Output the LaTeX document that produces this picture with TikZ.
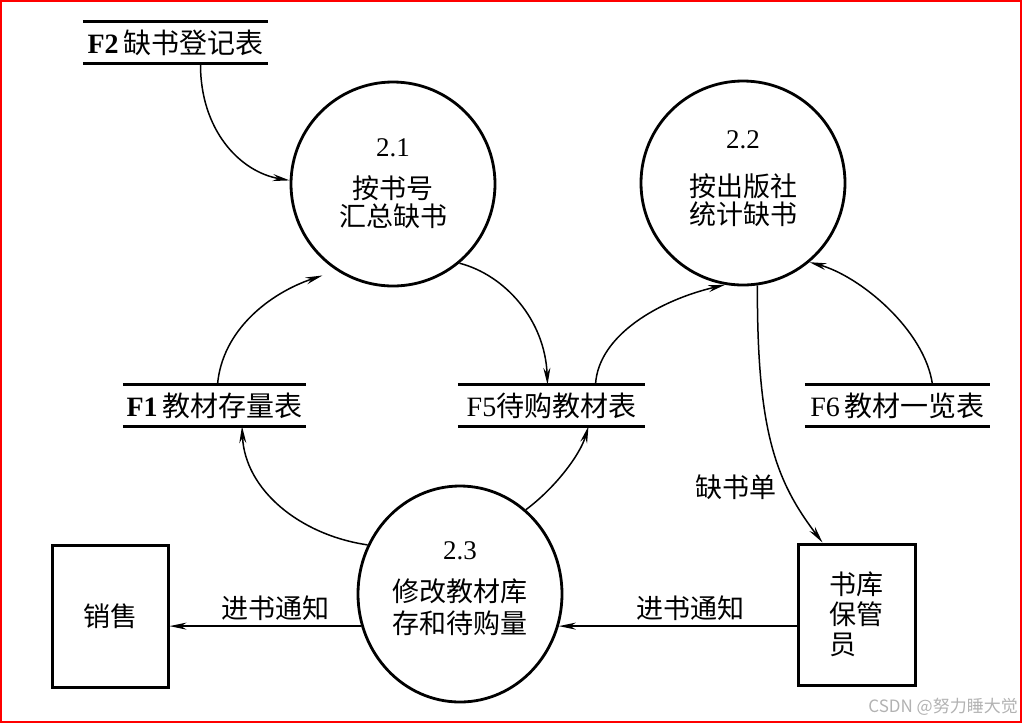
\documentclass[tikz,border=0pt]{standalone}
\usepackage{fontspec}
\setmainfont{Liberation Serif}
\newfontfamily\cjk{Noto Sans CJK SC}
\usetikzlibrary{arrows.meta,calc,shapes.geometric}
\begin{document}
\begin{tikzpicture}[x=1pt,y=-1pt,
  proc/.style={circle,draw,line width=2.8pt,minimum size=204pt,inner sep=0pt},
  ptext/.style={align=center,inner sep=0pt,font=\fontsize{27}{28}\selectfont},
  ent/.style={rectangle,draw,line width=3pt,inner sep=0pt,align=left,font=\fontsize{27}{30}\selectfont\cjk},
  store/.style={inner sep=0pt,minimum height=41pt,font=\fontsize{28}{28}\selectfont},
  sline/.style={line width=2.8pt},
  flow/.style={line width=1.5pt,-{Stealth[length=17pt,width=7pt]}},
  lbl/.style={font=\fontsize{27}{28}\selectfont\cjk,inner sep=0pt}
]
\useasboundingbox (0,0) rectangle (1023,724);
\draw[red,line width=2pt] (1,1) rectangle (1021,722);

% processes
\node[proc] (c21) at (393,184) {};
\node[proc] (c22) at (743,183) {};
\node[proc,ellipse,minimum width=204pt,minimum height=216pt] (c23) at (460,594) {};
\node[ptext] (t21) at (c21.center) {2.1\\[14pt]{\cjk 按书号}\\{\cjk 汇总缺书}};
\node[ptext] (t22) at ([yshift=4pt]c22.center) {2.2\\[20pt]{\cjk 按出版社}\\{\cjk 统计缺书}};
\node[ptext] (t23) at ([yshift=5pt]c23.center) {2.3\\[14pt]{\cjk 修改教材库}\\[4pt]{\cjk 存和待购量}};

% entities
\node[ent,minimum width=116pt,minimum height=142pt] (xs) at (110,616) {销售};
\node[ent,minimum width=117pt,minimum height=141pt] (kb) at (856.5,614.5) {书库\\保管\\员};

% data stores
\node[store,minimum width=185pt] (f2) at (175.5,42.5) {\textbf{F2}\,{\cjk 缺书登记表}};
\node[store,minimum width=183pt] (f1) at (214.5,405.5) {\textbf{F1}\,{\cjk 教材存量表}};
\node[store,minimum width=187pt] (f5) at (551.5,405.5) {F5{\cjk 待购教材表}};
\node[store,minimum width=185pt] (f6) at (897.5,405.5) {F6\,{\cjk 教材一览表}};
\foreach \s in {f2,f1,f5,f6}{
  \draw[sline] (\s.north west) -- (\s.north east);
  \draw[sline] (\s.south west) -- (\s.south east);
}

% flows
\draw[flow] ([xshift=25pt]f2.south) .. controls (200,130) and (240,172) .. (c21.178);
\draw[flow,shorten >=15pt] ([xshift=3pt]f1.north) .. controls (222,330) and (270,293) .. (c21.237);
\draw[flow] (c21.310) .. controls (505,275) and (545,320) .. ([xshift=-4pt]f5.north);
\draw[flow] ([xshift=44pt]f5.north) .. controls (598,335) and (660,300) .. (c22.260);
\draw[flow] ([xshift=35pt]f6.north) .. controls (925,330) and (860,276) .. (c22.310);
\draw[flow] (c22.278) .. controls (757,430) and (775,480) .. ([xshift=-34pt]kb.north);
\draw[flow] (c23.152) .. controls (300,535) and (245,490) .. ([xshift=27.5pt]f1.south);
\draw[flow] (c23.52) .. controls (555,488) and (580,455) .. ([xshift=37pt]f5.south);
\draw[flow] (c23.198) -- (c23.198 -| xs.east);
\draw[flow] (c23.342 -| kb.west) -- (c23.342);

% labels
\node[lbl] (l1) at (275,608) {进书通知};
\node[lbl] (l2) at (690,608) {进书通知};
\node[lbl] (l3) at (736,487) {缺书单};

% watermark
\node[font=\fontsize{17}{19}\selectfont\cjk,text=black!30,anchor=east,inner sep=0pt] (wm) at (1018,707) {CSDN @努力睡大觉};
\end{tikzpicture}
\end{document}
